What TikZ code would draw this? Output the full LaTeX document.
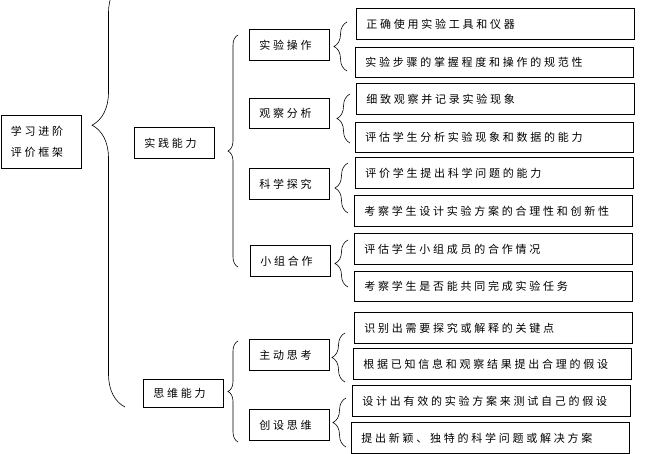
\documentclass[tikz,border=0pt]{standalone}
\usepackage{fontspec}
\setmainfont{Noto Sans CJK SC}[LetterSpace=25]
\usetikzlibrary{positioning,decorations.pathreplacing}

\tikzset{
	box/.style={draw,
		line width=0.8pt,
		anchor=north west,
		minimum height=31,
		inner xsep=10,
		text width=60,
		align=left,
		font=\fontsize{11}{21}\selectfont
	},
	leaf/.style={box, text width=258},
	brc/.style={decorate, decoration={brace, amplitude=#1}, line width=0.6pt},
	brc/.default=13
}

\begin{document}
\begin{tikzpicture}[x=1pt, y=-1pt]
\useasboundingbox (0,0) rectangle (652,454);
\clip (0,0) rectangle (652,454);

% Root
\node [box, minimum height=53] (root) at (0.5,115) {学习进阶\\评价框架};

% Abilities
\node [box] (practice) at (134,127) {实践能力};
\node [box, minimum height=28] (thinking) at (143,379) {思维能力};

% Practice aspects
\node [box] (operate) at (249,29) {实验操作};
\node [box, minimum height=30] (observe) at (249,98) {观察分析};
\node [box] (inquiry) at (249,168) {科学探究};
\node [box] (group) at (250,245) {小组合作};

% Thinking aspects
\node [box] (active) at (249,339) {主动思考};
\node [box] (create) at (249,409) {创设思维};

% Criteria
\node [leaf] (tools) at (356,8) {正确使用实验工具和仪器};
\node [leaf, minimum height=30] (steps) at (355,47) {实验步骤的掌握程度和操作的规范性};
\node [leaf] (record) at (356,83) {细致观察并记录实验现象};
\node [leaf, minimum height=30] (analyse) at (355,122) {评估学生分析实验现象和数据的能力};
\node [leaf] (question) at (355,157) {评价学生提出科学问题的能力};
\node [leaf] (design) at (354,195) {考察学生设计实验方案的合理性和创新性};
\node [leaf] (members) at (354,233) {评估学生小组成员的合作情况};
\node [leaf, minimum height=30] (together) at (354,271) {考察学生是否能共同完成实验任务};
\node [leaf] (keypoint) at (354,312) {识别出需要探究或解释的关键点};
\node [leaf] (hypo) at (353,348) {根据已知信息和观察结果提出合理的假设};
\node [leaf] (test) at (352,385) {设计出有效的实验方案来测试自己的假设};
\node [leaf] (novel) at (351,422) {提出新颖、独特的科学问题或解决方案};

% Braces
\draw [brc=33, decoration={aspect=0.66}] (125,407) -- (125,-20);
\draw [brc=10] (238,267) -- (238,35);
\draw [brc=10] (238,442) -- (238,341);

\draw [brc] (347,71) -- (347,22);
\draw [brc] (350,143) -- (350,94);
\draw [brc] (348,213) -- (348,163);
\draw [brc] (348,287) -- (348,240);
\draw [brc] (345,382) -- (345,333);
\draw [brc] (346,447) -- (346,398);

\end{tikzpicture}
\end{document}
